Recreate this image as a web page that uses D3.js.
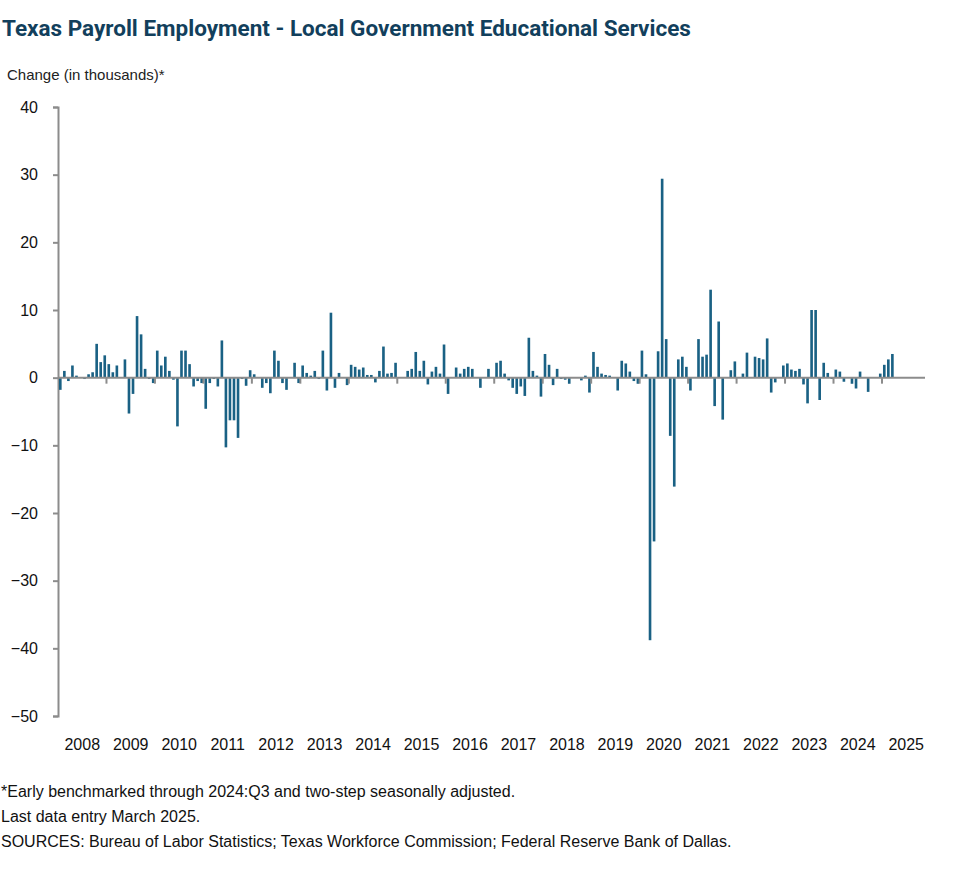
<!DOCTYPE html>
<html><head><meta charset="utf-8">
<script src="https://cdn.jsdelivr.net/npm/d3@7"></script>
<style>body{margin:0;background:#fff;font-family:"Liberation Sans",Arial,sans-serif;}</style>
</head><body><svg id="chart" width="979" height="878"></svg>
<script>
// monthly change, Jan 2008 - Mar 2025 (thousands)
var v2008 = [-1.8,1.0,-0.5,1.8,0.3,0.0,-0.2,0.5,0.8,5.0,2.3,3.3];
var v2009 = [2.0,0.8,1.8,0.0,2.7,-5.3,-2.4,9.1,6.4,1.3,-0.2,-0.8];
var v2010 = [4.0,1.8,3.1,1.0,-0.3,-7.2,4.0,4.0,2.0,-1.3,-0.5,-0.8];
var v2011 = [-4.6,-0.8,-0.2,-1.3,5.5,-10.3,-6.3,-6.3,-8.9,-0.2,-1.2,1.1];
var v2012 = [0.5,0.0,-1.5,-0.8,-2.3,4.0,2.5,-0.8,-1.8,0.0,2.2,-0.8];
var v2013 = [1.8,0.7,0.3,1.0,-0.2,4.0,-1.9,9.6,-1.5,0.7,0.0,-1.1];
var v2014 = [1.9,1.6,1.2,1.5,0.4,0.4,-0.7,1.0,4.6,0.6,0.7,2.2];
var v2015 = [0.0,0.0,1.0,1.3,3.8,1.0,2.5,-1.0,0.9,1.6,0.6,4.9];
var v2016 = [-2.4,0.0,1.5,0.6,1.3,1.6,1.3,0.0,-1.5,0.0,1.3,0.0];
var v2017 = [2.2,2.5,0.6,-0.4,-1.5,-2.4,-1.3,-2.7,5.9,1.0,0.3,-2.8];
var v2018 = [3.5,1.9,-1.1,1.3,-0.2,-0.3,-0.9,0.0,0.0,-0.4,0.3,-2.2];
var v2019 = [3.8,1.6,0.6,0.4,0.3,0.0,-1.9,2.5,2.1,0.9,-0.5,-0.9];
var v2020 = [4.0,0.5,-38.8,-24.2,3.9,29.4,5.7,-8.6,-16.1,2.7,3.1,1.6];
var v2021 = [-1.9,0.0,5.7,3.1,3.4,13.0,-4.2,8.3,-6.2,0.0,1.1,2.4];
var v2022 = [0.0,0.6,3.7,0.0,3.1,2.9,2.7,5.8,-2.2,-0.7,0.0,1.8];
var v2023 = [2.1,1.2,1.0,1.3,-1.0,-3.8,10.0,10.0,-3.3,2.2,0.7,-0.2];
var v2024 = [1.2,0.9,-0.6,0.0,-0.9,-1.6,0.9,0.0,-2.1,0.0,0.0,0.6];
var v2025 = [1.9,2.7,3.5];
var values = [].concat(v2008,v2009,v2010,v2011,v2012,v2013,v2014,v2015,v2016,v2017,v2018,v2019,v2020,v2021,v2022,v2023,v2024,v2025);
var years = d3.range(2008, 2026);
var yTicks = [40,30,20,10,0,-10,-20,-30,-40,-50];
var footnotes = [
  "*Early benchmarked through 2024:Q3 and two-step seasonally adjusted.",
  "Last data entry March 2025.",
  "SOURCES:  Bureau of Labor Statistics; Texas Workforce Commission;  Federal Reserve Bank of Dallas."
];

var svg = d3.select("#chart");
var plotLeft = 58, plotRight = 925, plotTop = 107, plotBottom = 716;
var barColour = "#1a6184", axisGrey = "#8c8c8c";

svg.append("text").attr("x", 2).attr("y", 36)
  .style("font-family", "Roboto, 'Liberation Sans', sans-serif")
  .style("font-size", "22.5px").style("font-weight", "bold").style("fill", "#123f5c")
  .text("Texas Payroll Employment - Local Government Educational Services");
svg.append("text").attr("x", 7).attr("y", 80).style("font-size", "15px").style("fill", "#222")
  .text("Change (in thousands)*");

// month slots run a bit past the last data point, as in the original
var x = d3.scaleBand().domain(d3.range(215)).range([plotLeft, plotRight]).paddingInner(0.35).paddingOuter(0);
var y = d3.scaleLinear().domain([-50, 40]).range([plotBottom, plotTop]);

// y axis
var yAxis = d3.axisLeft(y).tickValues(yTicks).tickSize(5).tickFormat(d3.format("d"));
var ga = svg.append("g").attr("transform", "translate(" + plotLeft + ",0)").call(yAxis);
ga.select(".domain").attr("stroke", axisGrey).attr("stroke-width", 2);
ga.selectAll(".tick line").attr("stroke", axisGrey).attr("stroke-width", 2);
ga.selectAll(".tick text").attr("x", -20).style("font-size", "16px").style("font-family", "'Liberation Sans',Arial,sans-serif").style("fill", "#111");

// bars
svg.selectAll(".bar").data(values).enter().append("rect")
  .attr("x", function (d, i) { return x(i) + 1; })
  .attr("width", x.bandwidth())
  .attr("y", function (d) { return y(Math.max(0, d)); })
  .attr("height", function (d) { return Math.abs(y(d) - y(0)); })
  .attr("fill", barColour);

// zero line + year ticks
svg.append("line").attr("x1", plotLeft).attr("x2", plotRight).attr("y1", y(0)).attr("y2", y(0))
  .attr("stroke", axisGrey).attr("stroke-width", 2);
years.forEach(function (yr, k) {
  if (k == 0) return;
  var xi = x(k * 12);
  svg.append("line").attr("x1", xi).attr("x2", xi).attr("y1", y(0)).attr("y2", y(0) + 6)
    .attr("stroke", axisGrey).attr("stroke-width", 2);
});
years.forEach(function (yr, k) {
  var xc = plotLeft + x.step() * (k * 12 + 6);
  svg.append("text").attr("x", xc).attr("y", 750).attr("text-anchor", "middle")
    .style("font-size", "16px").style("fill", "#111").text(yr);
});

// footnotes
svg.selectAll(".foot").data(footnotes).enter().append("text")
  .attr("x", 1).attr("y", function (d, i) { return 797 + i * 25; })
  .style("font-size", "16px").style("fill", "#111").text(function (d) { return d; });
</script></body></html>
